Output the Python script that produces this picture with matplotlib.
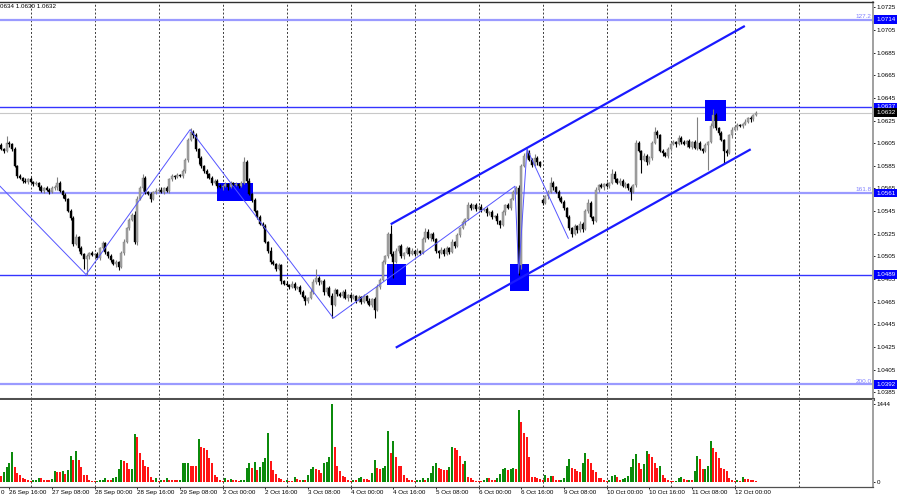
import matplotlib
matplotlib.use("Agg")
import matplotlib.pyplot as plt
from matplotlib.patches import Rectangle
import numpy as np

plt.rcParams['font.family'] = ['Liberation Sans', 'DejaVu Sans']

# EURUSD H1 bars, bar 0 = 27 Sep 00:00, first visible bar = -11
# closes in pips above 1.0000, one list per trading day
close_26sep = [600, 598, 605, 604, 600, 585, 576, 574, 572, 571, 573]
close_27sep = [571, 569, 570, 566, 563, 565, 564, 562, 565, 566, 570, 563,
               559, 556, 545, 539, 516, 522, 512, 507, 503, 505, 508, 506]
close_28sep = [507, 504, 512, 517, 509, 505, 502, 498, 500, 496, 508, 518,
               530, 537, 542, 518, 556, 565, 574, 562, 560, 556, 562, 563]
close_29sep = [564, 562, 565, 563, 573, 576, 575, 577, 576, 580, 590, 608,
               615, 612, 600, 592, 585, 580, 578, 574, 570, 572, 567, 566]
close_02oct = [567, 569, 566, 570, 568, 569, 567, 570, 588, 572, 560, 555,
               545, 540, 534, 532, 518, 510, 500, 498, 494, 497, 483, 481]
close_03oct = [480, 478, 481, 477, 478, 474, 469, 466, 468, 474, 482, 486,
               482, 483, 474, 477, 470, 462, 475, 472, 470, 474, 468, 471]
close_04oct = [468, 470, 466, 469, 465, 470, 466, 462, 467, 458, 478, 484,
               500, 505, 525, 507, 500, 510, 514, 505, 508, 512, 507, 510]
close_05oct = [507, 510, 508, 520, 527, 521, 525, 520, 510, 508, 511, 507,
               512, 509, 518, 514, 524, 530, 535, 538, 550, 548, 550, 547]
close_06oct = [549, 546, 547, 543, 544, 540, 541, 536, 533, 544, 550, 548,
               556, 562, 565, 497, 585, 594, 596, 590, 586, 592, 588, 585]
close_09oct = [552, 558, 562, 570, 566, 562, 557, 553, 548, 540, 530, 525,
               532, 528, 534, 529, 545, 552, 540, 536, 564, 568, 566, 569]
close_10oct = [567, 570, 578, 573, 570, 572, 567, 569, 565, 562, 568, 605,
               598, 590, 594, 588, 592, 605, 615, 612, 598, 596, 594, 600]
close_11oct = [604, 606, 604, 610, 606, 604, 607, 602, 606, 601, 605, 600,
               598, 603, 606, 620, 630, 618, 614, 608, 598, 596, 612, 617]
close_12oct = [619, 621, 620, 622, 624, 627, 626, 630, 632]

first_open = 603
gap_opens = {192: 555}   # Monday open after weekend

# wick lengths in pips
up_wick = [2, 1, 6, 2, 1, 2, 1, 2, 1, 2, 1,
           2, 1, 2, 1, 2, 1, 2, 1, 2, 2, 5, 2, 1, 2, 1, 2, 2, 3, 1, 2, 1, 2, 1, 2,
           1, 2, 1, 2, 1, 1, 2, 1, 2, 1, 2, 2, 1, 2, 1, 3, 2, 2, 4, 2, 1, 2, 1, 2,
           1, 2, 1, 2, 1, 2, 1, 2, 1, 2, 2, 2, 3, 2, 2, 1, 2, 1, 2, 1, 2, 1, 1, 2,
           1, 2, 1, 2, 1, 2, 1, 2, 5, 2, 2, 1, 2, 1, 2, 1, 2, 1, 3, 2, 1, 2, 1, 1,
           2, 1, 2, 1, 1, 2, 1, 2, 1, 2, 3, 8, 2, 1, 2, 1, 2, 3, 2, 1, 2, 1, 2, 1,
           1, 2, 1, 2, 1, 2, 1, 2, 1, 2, 3, 2, 2, 1, 2, 8, 3, 2, 1, 2, 1, 2, 1, 2,
           1, 2, 1, 2, 3, 2, 1, 2, 1, 1, 2, 1, 2, 1, 2, 1, 2, 1, 2, 1, 3, 2, 1, 2,
           1, 2, 1, 2, 1, 2, 1, 2, 1, 2, 1, 2, 1, 2, 2, 3, 2, 2, 4, 3, 2, 3, 2, 1,
           2, 1, 2, 5, 2, 1, 2, 1, 2, 1, 2, 1, 2, 1, 2, 1, 2, 4, 2, 1, 2, 1, 2, 1,
           2, 1, 4, 2, 1, 2, 1, 2, 1, 2, 1, 3, 2, 1, 2, 1, 2, 2, 4, 2, 1, 2, 1, 2,
           1, 2, 1, 2, 1, 2, 1, 2, 1, 2, 23, 2, 1, 2, 1, 3, 5, 2, 1, 2, 1, 2, 1, 2,
           1, 2, 1, 1, 2, 1, 2, 1, 1]
down_wick = [1, 2, 1, 2, 2, 1, 2, 1, 2, 1, 2,
             1, 2, 1, 2, 1, 2, 1, 2, 1, 1, 2, 1, 2, 2, 1, 2, 2, 1, 2, 1, 9, 14, 2, 1,
             2, 1, 2, 1, 2, 1, 2, 1, 2, 3, 1, 2, 1, 2, 1, 2, 3, 1, 2, 2, 1, 3, 1, 2,
             2, 1, 2, 1, 2, 1, 2, 1, 1, 2, 1, 2, 1, 2, 2, 5, 2, 1, 4, 1, 2, 1, 2, 1,
             2, 1, 2, 1, 2, 1, 2, 1, 1, 2, 1, 2, 1, 2, 1, 2, 1, 2, 2, 1, 2, 1, 2, 1,
             1, 2, 1, 2, 1, 2, 1, 4, 2, 1, 2, 1, 2, 1, 3, 2, 1, 11, 1, 2, 1, 2, 1, 2,
             2, 1, 2, 1, 2, 1, 2, 1, 2, 7, 1, 2, 1, 2, 1, 2, 14, 1, 2, 1, 2, 1, 2, 1,
             2, 1, 2, 1, 2, 1, 2, 1, 2, 4, 1, 2, 1, 2, 1, 2, 1, 2, 1, 2, 1, 2, 1, 2,
             1, 2, 1, 2, 1, 2, 1, 2, 3, 1, 2, 1, 2, 1, 2, 8, 3, 1, 2, 1, 2, 1, 2, 1,
             2, 1, 2, 1, 2, 1, 2, 1, 2, 1, 2, 3, 1, 2, 1, 2, 1, 2, 1, 2, 1, 2, 1, 2,
             1, 2, 1, 2, 1, 2, 1, 2, 1, 7, 1, 2, 1, 11, 1, 2, 1, 2, 1, 2, 1, 2, 1, 2,
             2, 1, 2, 1, 2, 1, 2, 1, 2, 1, 2, 1, 2, 1, 22, 1, 2, 1, 2, 1, 11, 2, 1, 2,
             1, 2, 1, 2, 1, 1, 2, 1, 1]

# tick volumes per bar
vol_26sep = [107, 187, 280, 355, 549, 280, 156, 125, 75, 45, 40]
vol_27sep = [10, 31, 40, 63, 60, 40, 38, 36, 45, 200, 190, 180,
             200, 150, 218, 480, 405, 575, 405, 280, 125, 120, 40, 20]
vol_28sep = [20, 22, 31, 40, 75, 40, 38, 60, 95, 230, 405, 390,
             340, 230, 235, 890, 840, 530, 400, 290, 280, 95, 35, 60]
vol_29sep = [12, 31, 28, 63, 40, 31, 30, 28, 40, 345, 350, 355,
             300, 290, 285, 797, 640, 635, 590, 440, 340, 125, 95, 40]
vol_02oct = [5, 63, 31, 45, 31, 28, 15, 31, 35, 250, 340, 250,
             360, 220, 280, 360, 450, 908, 395, 218, 140, 63, 45, 15]
vol_03oct = [31, 15, 10, 80, 45, 31, 40, 38, 125, 237, 280, 237,
             218, 170, 342, 373, 467, 1444, 653, 300, 205, 110, 80, 30]
vol_04oct = [22, 25, 24, 63, 93, 45, 42, 40, 170, 405, 250, 245,
             250, 295, 952, 535, 760, 465, 290, 285, 125, 75, 31, 25]
vol_05oct = [20, 31, 40, 63, 40, 63, 156, 290, 345, 250, 230, 225,
             220, 270, 641, 622, 600, 480, 330, 386, 93, 70, 30, 20]
vol_06oct = [15, 12, 40, 62, 60, 40, 38, 63, 140, 230, 250, 225,
             240, 250, 245, 1338, 1108, 915, 840, 455, 90, 85, 63, 45]
vol_09oct = [31, 125, 63, 110, 105, 31, 25, 40, 63, 293, 418, 250,
             235, 200, 180, 340, 530, 420, 340, 210, 180, 63, 60, 40]
vol_10oct = [10, 40, 100, 125, 80, 40, 42, 63, 100, 270, 418, 511,
             350, 237, 330, 573, 510, 467, 350, 260, 300, 125, 63, 31]
vol_11oct = [15, 12, 20, 63, 80, 45, 31, 35, 30, 205, 480, 418,
             230, 240, 300, 765, 622, 550, 440, 250, 240, 200, 63, 31]
vol_12oct = [15, 25, 22, 93, 50, 48, 40, 31, 10]

# drawn objects (bar index, price)
levels = [1.0714, 1.0637, 1.0561, 1.0489, 1.0392]
level_fib = {1.0714: "127.2", 1.0561: "161.8", 1.0392: "200.0"}
bid = 1.0632
channel_upper = [(135.0, 1.05334), (267.8, 1.07085)]
channel_lower = [(136.9, 1.04244), (270.0, 1.05996)]
zigzag_idx = [-11.5, 20.75, 59.8, 113.5, 181.6, 183.0, 186.1, 201.6]
zigzag_px = [1.0567, 1.0489, 1.0617, 1.04505, 1.0567, 1.0490, 1.0600, 1.0521]
boxes = [(69.75, 83.5, 1.0554, 1.0570), (133.7, 140.7, 1.0480, 1.0498),
         (179.7, 186.7, 1.04745, 1.0498), (252.9, 260.7, 1.06246, 1.0643)]

time_idx = [-8, 8, 24, 40, 56, 72, 88, 104, 120, 136, 152, 168, 184,
            200, 216, 232, 248, 264]
time_lbl = ["26 Sep 16:00", "27 Sep 08:00", "28 Sep 00:00",
            "28 Sep 16:00", "29 Sep 08:00", "2 Oct 00:00", "2 Oct 16:00",
            "3 Oct 08:00", "4 Oct 00:00", "4 Oct 16:00", "5 Oct 08:00",
            "6 Oct 00:00", "6 Oct 16:00", "9 Oct 08:00", "10 Oct 00:00",
            "10 Oct 16:00", "11 Oct 08:00", "12 Oct 00:00"]

# ---- build OHLC
closes = (close_26sep + close_27sep + close_28sep + close_29sep + close_02oct
          + close_03oct + close_04oct + close_05oct + close_06oct + close_09oct
          + close_10oct + close_11oct + close_12oct)
vols = np.array(vol_26sep + vol_27sep + vol_28sep + vol_29sep + vol_02oct
                + vol_03oct + vol_04oct + vol_05oct + vol_06oct + vol_09oct
                + vol_10oct + vol_11oct + vol_12oct)
idx = np.arange(-11, -11 + len(closes))
c = 1 + np.array(closes) / 1e4
o = np.r_[1 + first_open / 1e4, c[:-1]]
for k, v in gap_opens.items():
    o[k + 11] = 1 + v / 1e4
hi = np.maximum(o, c) + np.array(up_wick) / 1e4
lo = np.minimum(o, c) - np.array(down_wick) / 1e4
bull = c >= o

fig = plt.figure(figsize=(9, 5), dpi=100)
fig.patch.set_facecolor("white")
ax = fig.add_axes([0, 1 - 399 / 500, 873 / 900, 397.5 / 500])
axv = fig.add_axes([0, 1 - 487 / 500, 873 / 900, 87 / 500])

xlim = (-11.51, 315.86)
ax.set_xlim(*xlim)
axv.set_xlim(*xlim)
ax.set_ylim(1.03791, 1.07301)
axv.set_ylim(-99, 1524)

for g in range(0, 300, 24):
    for a in (ax, axv):
        a.axvline(g, color="#3a3a3a", lw=0.7, ls=(0, (2, 2)), zorder=0)

# horizontal levels
for lv in levels:
    if lv in level_fib:
        ax.axhline(lv, color="#9a9aff", lw=1.6, zorder=1)
        ax.text(0.9985, lv + 0.00005, level_fib[lv], transform=ax.get_yaxis_transform(),
                ha="right", va="bottom", fontsize=4.6, color="#8080ff", zorder=6)
    else:
        ax.axhline(lv, color="#3434ff", lw=1.0, zorder=1)
ax.axhline(bid, color="#c8c8c8", lw=0.8, zorder=1)

for i0, i1, p0, p1 in boxes:
    ax.add_patch(Rectangle((i0, p0), i1 - i0, p1 - p0, color="#0000ff", lw=0, zorder=2))

# candles
wick_col = np.where(bull, "#808080", "#000000")
ax.vlines(idx, lo, hi, colors=wick_col, lw=0.8, zorder=3)
body_h = np.maximum(np.abs(c - o), 0.00008)
ax.bar(idx, body_h, bottom=np.minimum(o, c), width=0.8,
       color=np.where(bull, "#a4a4a4", "#000000"),
       edgecolor=np.where(bull, "#7a7a7a", "#000000"), lw=0.3, zorder=3)

# zigzag and channel
ax.plot(zigzag_idx, zigzag_px, color="#5555ff", lw=0.7, zorder=4)
for line in (channel_upper, channel_lower):
    xs, ys = zip(*line)
    ax.plot(xs, ys, color="#1a1aff", lw=1.6, solid_capstyle="butt", zorder=4)

# volumes
prev = np.r_[vols[0] + 1, vols[:-1]]
vcol = np.where(vols > prev, "#0b8a0b", "#ff1414")
axv.bar(idx, vols, width=0.8, color=vcol, lw=0, zorder=2)

# axes styling
for a in (ax, axv):
    a.spines["left"].set_visible(False)
    a.spines["right"].set_color("#a0a0a0")
    a.spines["right"].set_linewidth(1.4)
    a.yaxis.tick_right()
    a.tick_params(axis="y", length=1.5, width=0.6, pad=1.2, labelsize=4.5, colors="black")
ax.spines["top"].set_color("#303030")
ax.spines["top"].set_linewidth(1.0)
ax.spines["bottom"].set_color("#505050")
ax.spines["bottom"].set_linewidth(2.2)
axv.spines["top"].set_visible(False)
axv.spines["bottom"].set_color("#505050")
axv.spines["bottom"].set_linewidth(0.9)
ax.tick_params(axis="x", bottom=False, labelbottom=False)

pticks = [round(1.0385 + 0.002 * k, 4) for k in range(18)]
ax.set_yticks(pticks)
ax.set_yticklabels([f"{p:.4f}" for p in pticks])
axv.set_yticks([0, 1444])
axv.set_yticklabels(["0", "1444"])

axv.set_xticks(time_idx)
axv.set_xticklabels(time_lbl, ha="left")
axv.tick_params(axis="x", length=1.5, width=0.6, pad=1.0, labelsize=4.5)
# tail of the label left of the window
fig.text(0.0005, 1 - 492 / 500, "0", fontsize=4.5, ha="left", va="center")

# price boxes on the scale
for lv in levels + [bid]:
    fc = "#000000" if lv == bid else "#0000ff"
    ax.text(1.0035, lv, f"{lv:.4f}", transform=ax.get_yaxis_transform(),
            ha="left", va="center", fontsize=4.5, color="white", zorder=10,
            clip_on=False, bbox=dict(boxstyle="square,pad=0.28", fc=fc, ec="none"))

fig.text(0.0, 1 - 6 / 500, "0634 1.0630 1.0632", fontsize=4.5, va="center", ha="left")

fig.savefig("out.png", dpi=100)
